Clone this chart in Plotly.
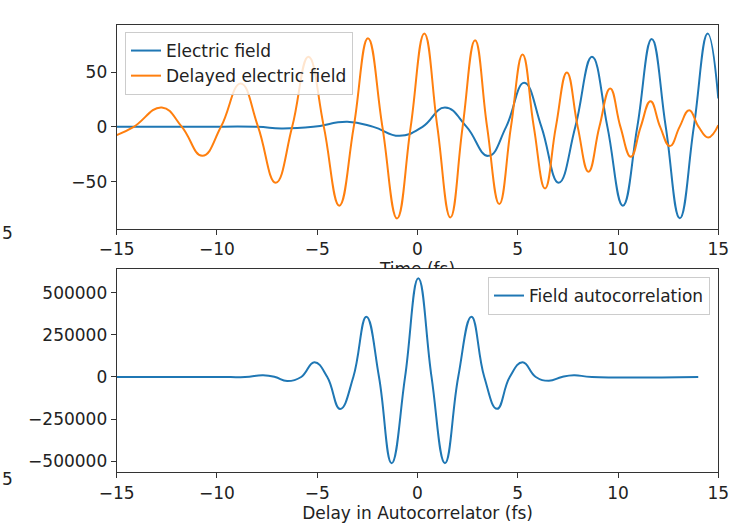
import plotly.graph_objects as go

# Electric field of the chirped pulse (extrema and zero crossings), t in fs
t_field = [-15, -11, -8, -6.8, -5.2, -3.5, -2.2, -0.9, 0.25, 1.37, 2.45, 3.53, 4.42,
           5.32, 6.18, 7.04, 7.87, 8.70, 9.47, 10.24, 10.96, 11.68, 12.38, 13.08,
           13.78, 14.47, 15.0]
e_field = [0, 0, 0, -1.5, 0, 4.6, 0, -8.2, 0, 17.7, 0, -26.5, 0,
           40.2, 0, -51, 0, 63.9, 0, -72, 0, 80.2, 0, -83.5,
           0, 85.2, 25.9]

# Delayed copy of the field
t_delayed = [-15, -14.15, -12.75, -11.75, -10.73, -9.8, -8.82, -7.95, -7.07, -6.25,
             -5.44, -4.67, -3.9, -3.18, -2.47, -1.75, -1.02, -0.34, 0.34, 0.99,
             1.64, 2.25, 2.87, 3.47, 4.08, 4.66, 5.24, 5.8, 6.36, 6.9, 7.45, 7.99,
             8.53, 9.07, 9.61, 10.12, 10.64, 11.13, 11.62, 12.1, 12.59, 13.07,
             13.55, 14.02, 14.5, 15.0]
e_delayed = [-7.6, 0, 17.7, 0, -26.5, 0, 39.6, 0, -51, 0,
             63.9, 0, -72, 0, 80.9, 0, -83.6, 0, 85.2, 0,
             -82.7, 0, 79.1, 0, -70.5, 0, 66, 0, -56.2, 0, 49.6, 0,
             -41, 0, 35, 0, -27.4, 0, 23.4, 0, -17.6, 0,
             15.2, 0, -9.7, 1.5]

# Field autocorrelation versus delay
delay = [-15, -10, -8.6, -7.7, -7.1, -6.5, -5.8, -5.14, -4.5, -3.86, -3.2, -2.55,
         -1.92, -1.29, -0.62, 0.04, 0.7, 1.37, 2.03, 2.69, 3.33, 3.97, 4.6, 5.24,
         5.9, 6.55, 7.2, 7.8, 8.7, 14]
autocorr = [0, 0, 0, 10000, 0, -24000, 0, 87000, 0, -190000, 0, 358000,
            0, -512000, 0, 586000, 0, -512000, 0, 358000, 0, -189000, 0, 87000,
            0, -23000, 0, 10000, 0, 0]

x_ticks = [-15, -10, -5, 0, 5, 10, 15]
y1_ticks = [-50, 0, 50]
y2_ticks = [-500000, -250000, 0, 250000, 500000]


def label(v):
    s = str(abs(v))
    return ("\u2212" + s) if v < 0 else s


BLUE = "#1f77b4"
ORANGE = "#ff7f0e"
FONT = "DejaVu Sans"
FS = 17
TEXT = "#222222"
W, H = 732, 526


def px_x(p):
    return p / W


def px_y(p):
    return 1 - p / H


fig = go.Figure()

line_style = dict(width=2, shape="spline", smoothing=1.3)
fig.add_trace(go.Scatter(x=t_field, y=e_field, mode="lines", name="Electric field",
                         line=dict(color=BLUE, **line_style),
                         xaxis="x", yaxis="y", legend="legend", legendgroup="a"))
fig.add_trace(go.Scatter(x=t_delayed, y=e_delayed, mode="lines",
                         name="Delayed electric field",
                         line=dict(color=ORANGE, **line_style),
                         xaxis="x", yaxis="y", legend="legend", legendgroup="b"))
fig.add_trace(go.Scatter(x=delay, y=autocorr, mode="lines", name="Field autocorrelation",
                         line=dict(color=BLUE, **line_style),
                         xaxis="x2", yaxis="y2", legend="legend2"))

# Top x-axis label, partly hidden behind the lower axes
fig.add_trace(go.Scatter(x=[0], y=[-0.10], mode="text", text=["Time (fs)"],
                         textposition="middle center",
                         textfont=dict(family=FONT, size=FS, color=TEXT),
                         cliponaxis=True, showlegend=False, hoverinfo="skip",
                         xaxis="x3", yaxis="y3"))

xdom = [px_x(116.7), px_x(718.3)]
axis_common = dict(showline=True, mirror=True, linecolor="#333333", linewidth=1.1,
                   ticks="outside", ticklen=5, tickwidth=1, tickcolor="#333333",
                   showgrid=False, zeroline=False, automargin=False,
                   tickfont=dict(family=FONT, size=FS, color=TEXT))

fig.update_layout(
    width=W, height=H,
    margin=dict(l=0, r=0, t=0, b=0, autoexpand=False),
    paper_bgcolor="white", plot_bgcolor="white",
    font=dict(family=FONT, size=FS, color=TEXT),
    xaxis=dict(domain=xdom, anchor="y", range=[-15, 15], tickmode="array",
               tickvals=x_ticks, ticktext=[label(v) for v in x_ticks], **axis_common),
    yaxis=dict(domain=[px_y(228.7), px_y(25)], anchor="x", range=[-93, 93],
               tickmode="array", tickvals=y1_ticks,
               ticktext=[label(v) for v in y1_ticks], **axis_common),
    xaxis2=dict(domain=xdom, anchor="y2", range=[-15, 15], tickmode="array",
                tickvals=x_ticks, ticktext=[label(v) for v in x_ticks],
                title=dict(text="Delay in Autocorrelator (fs)",
                           font=dict(family=FONT, size=FS, color=TEXT),
                           standoff=4),
                **axis_common),
    yaxis2=dict(domain=[px_y(472.3), px_y(268.7)], anchor="x2",
                range=[-566000, 643000], tickmode="array", tickvals=y2_ticks,
                ticktext=[label(v) for v in y2_ticks], **axis_common),
    xaxis3=dict(domain=xdom, anchor="y3", range=[-15, 15], visible=False),
    yaxis3=dict(domain=[px_y(268.7), px_y(252)], anchor="x3", range=[0, 1],
                visible=False),
    legend=dict(x=px_x(125), y=px_y(32), xanchor="left", yanchor="top",
                bgcolor="rgba(255,255,255,0.8)", bordercolor="#cccccc",
                borderwidth=1, font=dict(family=FONT, size=FS, color=TEXT),
                tracegroupgap=0, traceorder="grouped"),
    legend2=dict(x=px_x(710), y=px_y(277), xanchor="right", yanchor="top",
                 bgcolor="rgba(255,255,255,0.8)", bordercolor="#cccccc",
                 borderwidth=1, font=dict(family=FONT, size=FS, color=TEXT)),
    showlegend=True,
)

# Edge labels from a neighbouring panel
for yp in (233, 478.5):
    fig.add_annotation(text="5", x=0, y=px_y(yp), xref="paper", yref="paper",
                       xanchor="left", yanchor="middle", showarrow=False,
                       xshift=0, font=dict(family=FONT, size=FS, color=TEXT))

fig.write_html("out.html")
